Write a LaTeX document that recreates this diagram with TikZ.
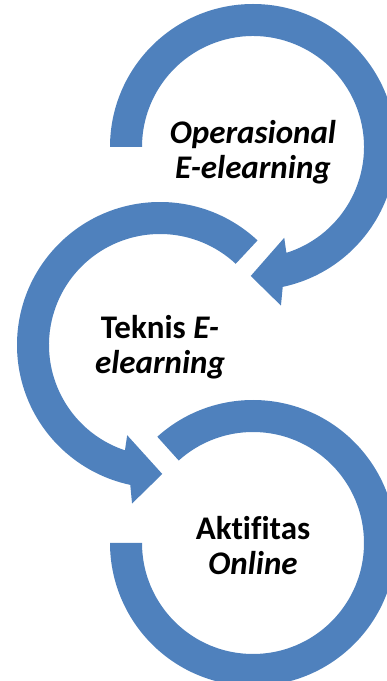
\documentclass[tikz,border=0pt]{standalone}
\usepackage{fontspec}
\setmainfont{Carlito}[Ligatures=NoCommon]
\definecolor{ringblue}{RGB}{79,129,189}

\tikzset{
  ring/.style={fill=ringblue},
  lbl/.style={font=\bfseries\fontsize{33}{35}\selectfont, align=center, inner sep=0pt}
}

\begin{document}
\begin{tikzpicture}[x=1pt, y=1pt]
\clip (0,0) rectangle (387,681);
\coordinate (topc) at (253,534);
\coordinate (midc) at (160,336);
\coordinate (botc) at (253,138);
% top ring, arrow ends below
\fill[ring] ([shift={(180:143)}]topc) arc[start angle=180, end angle=-78, radius=143]
  -- ([shift={(-80:161)}]topc) -- ([shift={(-91:129)}]topc) -- ([shift={(-71:96)}]topc)
  -- ([shift={(-72.5:111)}]topc) arc[start angle=-72.5, end angle=180, radius=111] -- cycle;
% middle ring
\fill[ring] ([shift={(47:143)}]midc) arc[start angle=47, end angle=258, radius=143]
  -- ([shift={(260:161)}]midc) -- ([shift={(271:129)}]midc) -- ([shift={(250:96)}]midc)
  -- ([shift={(251.6:111)}]midc) arc[start angle=251.6, end angle=47, radius=111] -- cycle;
% bottom ring
\fill[ring] ([shift={(132:143)}]botc) arc[start angle=132, end angle=-180, radius=143]
  -- ([shift={(180:111)}]botc) arc[start angle=-180, end angle=132, radius=111] -- cycle;
\node[lbl] (oper) at ([yshift=-5]topc) {\textit{Operasional}\\\textit{E-elearning}};
\node[lbl] (teknis) at ([yshift=-2]midc) {Teknis \textit{E-}\\\textit{elearning}};
\node[lbl] (aktif) at ([yshift=-3]botc) {Aktifitas\\\textit{Online}};
\end{tikzpicture}
\end{document}
